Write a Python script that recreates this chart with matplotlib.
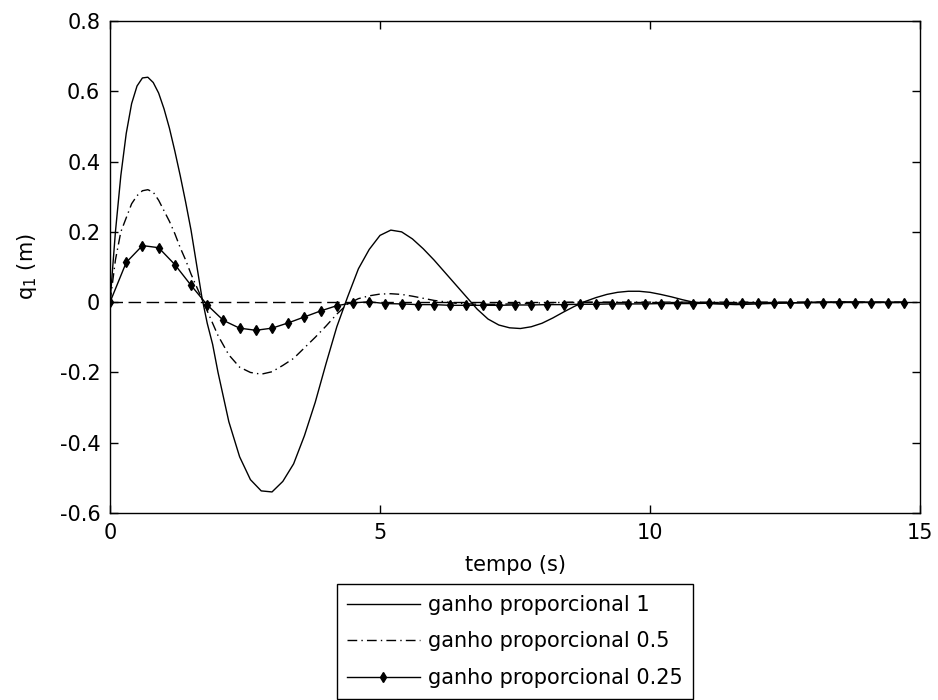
import matplotlib
matplotlib.use("Agg")
import matplotlib.pyplot as plt

# response of q1 for three proportional gains

t_g1 = [0.0, 0.1, 0.2, 0.3, 0.4, 0.5, 0.6, 0.7, 0.8, 0.9,
        1.0, 1.1, 1.2, 1.3, 1.4, 1.5, 1.6, 1.7, 1.8, 1.9,
        2.0, 2.2, 2.4, 2.6, 2.8, 3.0, 3.2, 3.4, 3.6, 3.8,
        4.0, 4.2, 4.4, 4.6, 4.8, 5.0, 5.2, 5.4, 5.6, 5.8,
        6.0, 6.2, 6.4, 6.6, 6.8, 7.0, 7.2, 7.4, 7.6, 7.8,
        8.0, 8.2, 8.4, 8.6, 8.8, 9.0, 9.2, 9.4, 9.6, 9.8,
        10.0, 10.2, 10.4, 10.6, 10.8, 11.2, 11.6, 12.0, 12.4, 13.0,
        13.6, 14.2, 14.7]
q_g1 = [0.0, 0.20, 0.36, 0.48, 0.565, 0.615, 0.638, 0.64, 0.625, 0.595,
        0.55, 0.495, 0.43, 0.36, 0.285, 0.205, 0.11, 0.015, -0.06, -0.12,
        -0.20, -0.34, -0.44, -0.505, -0.537, -0.54, -0.51, -0.46, -0.38, -0.285,
        -0.175, -0.07, 0.015, 0.095, 0.15, 0.19, 0.205, 0.20, 0.18, 0.152,
        0.12, 0.085, 0.05, 0.015, -0.02, -0.048, -0.065, -0.073, -0.075, -0.07,
        -0.06, -0.045, -0.028, -0.012, 0.002, 0.013, 0.022, 0.028, 0.031, 0.031,
        0.028, 0.022, 0.015, 0.007, 0.0, -0.005, -0.007, -0.005, -0.003, 0.0,
        0.001, 0.0, 0.0]

t_g05 = [0.0, 0.1, 0.2, 0.3, 0.4, 0.5, 0.6, 0.7, 0.8, 0.9,
         1.0, 1.1, 1.2, 1.3, 1.4, 1.5, 1.6, 1.7, 1.8, 1.9,
         2.0, 2.2, 2.4, 2.6, 2.8, 3.0, 3.2, 3.4, 3.6, 3.8,
         4.0, 4.2, 4.4, 4.6, 4.8, 5.0, 5.2, 5.4, 5.6, 5.8,
         6.0, 6.4, 6.8, 7.2, 7.6, 8.0, 8.6, 9.4, 14.7]
q_g05 = [0.0, 0.12, 0.20, 0.24, 0.28, 0.303, 0.317, 0.32, 0.313, 0.29,
         0.26, 0.23, 0.195, 0.155, 0.12, 0.08, 0.045, 0.01, -0.025, -0.06,
         -0.095, -0.15, -0.185, -0.20, -0.205, -0.198, -0.18, -0.16, -0.13, -0.10,
         -0.068, -0.034, -0.005, 0.01, 0.018, 0.023, 0.024, 0.022, 0.017, 0.011,
         0.005, -0.003, -0.006, -0.006, -0.004, -0.002, 0.0, 0.0, 0.0]

t_g025 = [0.0, 0.3, 0.6, 0.9, 1.2, 1.5, 1.8, 2.1, 2.4, 2.7,
          3.0, 3.3, 3.6, 3.9, 4.2, 4.5, 4.8, 5.1, 5.4, 5.7,
          6.0, 6.3, 6.6, 6.9, 7.2, 7.5, 7.8, 8.1, 8.4, 8.7,
          9.0, 9.3, 9.6, 9.9, 10.2, 10.5, 10.8, 11.1, 11.4, 11.7,
          12.0, 12.3, 12.6, 12.9, 13.2, 13.5, 13.8, 14.1, 14.4, 14.7]
q_g025 = [0.0, 0.113, 0.161, 0.155, 0.107, 0.048, -0.008, -0.052, -0.074, -0.08,
          -0.074, -0.059, -0.042, -0.025, -0.01, -0.002, 0.001, -0.004, -0.005, -0.007,
          -0.007, -0.009, -0.009, -0.009, -0.009, -0.008, -0.008, -0.007, -0.007, -0.006,
          -0.006, -0.005, -0.005, -0.005, -0.004, -0.004, -0.004, -0.003, -0.003, -0.003,
          -0.002, -0.002, -0.002, -0.002, -0.001, -0.001, -0.001, -0.001, -0.001, -0.001]

t_ref = [0.0, 15.0]
q_ref = [0.0, 0.0]

labels = ["ganho proporcional 1", "ganho proporcional 0.5", "ganho proporcional 0.25"]
yticks = [-0.6, -0.4, -0.2, 0.0, 0.2, 0.4, 0.6, 0.8]
yticklabels = ["-0.6", "-0.4", "-0.2", "0", "0.2", "0.4", "0.6", "0.8"]
xticks = [0, 5, 10, 15]

plt.rcParams["font.family"] = ["DejaVu Sans"]
plt.rcParams["font.size"] = 15

fig = plt.figure(figsize=(9.38, 7.0), dpi=100)
ax = fig.add_axes([0.1173, 0.2671, 0.8635, 0.7029])

l1, = ax.plot(t_g1, q_g1, color="k", lw=1.0, label=labels[0])
l2, = ax.plot(t_g05, q_g05, color="k", lw=1.0, linestyle=(0, (7, 3, 1, 3)), label=labels[1])
l3, = ax.plot(t_g025, q_g025, color="k", lw=1.0, marker="d", markersize=5,
              markerfacecolor="k", markeredgecolor="k", label=labels[2])
ax.plot(t_ref, q_ref, color="k", lw=1.0, linestyle=(0, (9, 4)))

ax.set_xlim(0, 15)
ax.set_ylim(-0.6, 0.8)
ax.set_xticks(xticks)
ax.set_xticklabels([str(x) for x in xticks])
ax.set_yticks(yticks)
ax.set_yticklabels(yticklabels)
ax.tick_params(direction="in", length=6, width=1.0, top=True, right=True, pad=7)
for sp in ax.spines.values():
    sp.set_linewidth(1.0)

ax.set_xlabel("tempo (s)")
ax.set_ylabel("q$_1$ (m)")
ax.xaxis.set_label_coords(0.5, -0.085)
ax.yaxis.set_label_coords(-0.088, 0.5)

leg = fig.legend(handles=[l1, l2, l3], labels=labels, loc="center",
                 bbox_to_anchor=(0.549, 0.0836), fancybox=False, framealpha=1,
                 edgecolor="k", handlelength=3.5, handletextpad=0.4,
                 borderpad=0.5, labelspacing=0.8, numpoints=1)
leg.get_frame().set_linewidth(1.0)

fig.savefig("out.png", dpi=100)
